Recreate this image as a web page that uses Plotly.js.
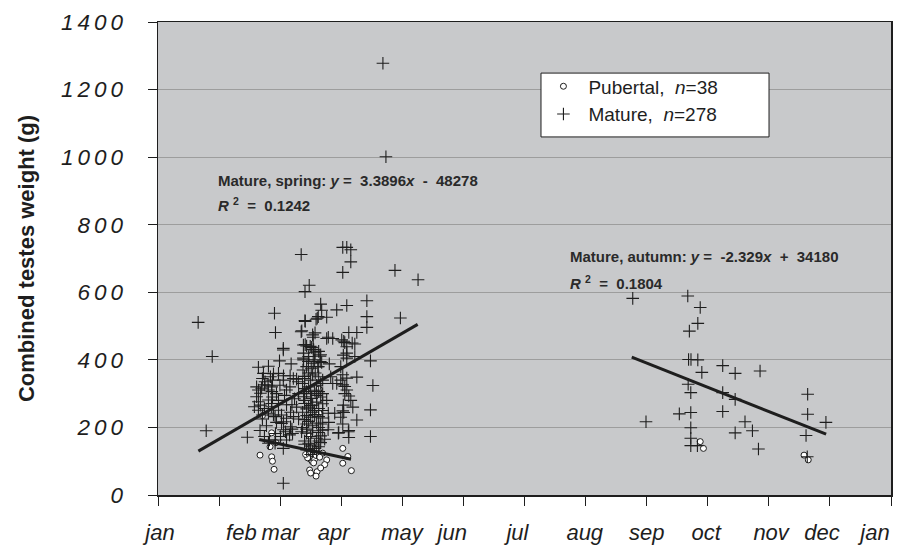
<!DOCTYPE html>
<html>
<head>
<meta charset="utf-8">
<script src="https://cdn.plot.ly/plotly-3.0.1.min.js"></script>
<style>
  html, body { margin: 0; padding: 0; background: #ffffff; }
  #chart { width: 915px; height: 553px; }
  .ytick text { letter-spacing: 4px; }
</style>
</head>
<body>
<div id="chart"></div>
<script>
// ---- data (x = day of year, y = combined testes weight in g) ----
const matureSpring = [
  [20,511],[27,410],[24,190],
  [58,538],[58.5,481],[62.4,434],[62.4,429],[60.5,397],[66.3,388],[50,378],[55,381],[44.5,171],
  [52.5,360],[53.3,335],[54.8,325],[57,340],[62.4,340],[67.4,345],[69.9,335],
  [49.1,320],[51.6,316],[55,311],[56.6,320],[60.7,325],[64,311],[65.7,320],
  [49.1,291],[50,276],[55,281],[56.6,271],[48,261],[50,251],[56.6,261],[53,256],
  [52,237],[55,242],[57.5,237],[60,251],[61.5,237],[64,227],[61.5,212],
  [66,202],[63.5,187],[61,173],[67,182],[50.8,191],[53,173],[58.5,182],[58.5,163],
  [62.4,138],[62.4,35],[55,153],[55.5,163],[58.3,153],
  [51,301],[53,326],[56.7,306],[58.3,232],[62.5,217],[64,267],[66.7,267],[67.5,232],
  [62.5,193],[66.7,195],[65.5,178],[64,163],[57.5,359],[62.5,353],[65.8,353],[69,343],
  [50,311],[51,266],[52,225],[54,205],[57,290],[59,300],[60,280],[63,295],[68,285],
  [70,300],[69,260],[66,245],[70,225],[59,215],[52,345],[60,360],[56,350],
  [71.3,712],[75.3,621],[73.2,602],[81,565],[81.5,547],[79.8,528],[78.7,520],[73.2,516],[79.3,523],[73.3,514],
  [71.6,486],[78.2,480],[77.3,467],[71.3,483],[77,474],[72.4,444],[74,441],[76.5,437],[77.3,431],[78.2,421],[80.7,411],[81.5,392],
  [72.4,405],[74.9,395],[77.3,390],[79.8,380],[73.3,445],[75.8,440],[77.5,430],[80,425],[72.5,400],[80.8,395],
  [72.2,370],[76.3,375],[79.6,380],[73,351],[75,361],[78.3,361],[73,345],[76,340],[79,325],[81,330],
  [74,306],[72.5,291],[76.5,286],[80,306],[82,300],[73,271],[77,266],[80,256],[75,260],[78,250],
  [72,245],[74,235],[76,230],[78,238],[80,232],[82,228],[73,223],[75,218],[79,213],[81,210],
  [72,200],[74,195],[77,190],[80,185],[82,192],[71.5,187],[74,183],[76,173],[79,168],[81,175],
  [73,160],[75,153],[78,148],[80,143],[74,133],[77,130],[79,126],[76,120],[81,155],[83,165],
  [72,330],[75,320],[78,310],[81,290],[73,280],[76,300],[79,295],[82,270],[74,255],[77,245],
  [84.7,193],[84.8,242],[88,242],[85.3,388],[84,463],[84.8,467],[87,330],[86,350],[89.8,183],[84,280],[85,215],
  [72.5,420],[75,410],[78,400],[81,415],[74,380],[77,355],[80,350],[82,340],[73,315],[76,265],
  [79,275],[82,250],[74,210],[77,205],[80,200],[76,145],[78,138],[73,150],[80,160],
  [89,548],[84,526],[87,463],
  [92,733],[94,733],[96,726],[96,690],[92,659],[94,561],
  [91.5,459],[93,451],[94,439],[92.5,455],[96.7,450],[98,447],[94,420],[98,410],[92.3,414],[94,405],[91,380],[92,356],[99,349],
  [92,326],[93,321],[94,311],[95,293],[92,249],[92.5,244],[99,222],[90,185],[95,191],[95,481],[99,481],
  [89,330],[91,340],[94,346],[92.3,266],[94.8,187],[93,300],[96,280],[91,230],[97,260],[92,210],[95,170],
  [104,575],[104,528],[104,496],[105.8,397],[107,324],[105.8,252],[105.8,173],[118,665],[129.5,637],[120.7,524],[112,1278],[113.5,1001]
];
const matureAutumn = [
  [236.4,582],[243,217],[263.8,589],[270,555],[268.8,508],[264.6,485],[264.2,401],[265.4,401],[268.8,400],
  [270.8,363],[264,328],[265.3,303],[259.6,240],[265.3,244],[265.3,199],[265.3,168],[265.3,146],[268.6,146],
  [281.2,383],[287.4,360],[299.8,367],[281.2,303],[287.4,283],[281.2,247],[292.3,217],[296,190],[287.4,184],
  [299,136],[323.5,298],[323.5,239],[332.6,215],[322.7,176],[323.3,113]
];
const pubertal = [
  [50.8,118],[56.6,113],[57.8,76],[56.6,184],[58.8,155],[52,235],[55.8,143],[57,100],
  [75.3,175],[75.5,138],[77,143],[79,135],[75.8,106],[76.8,99],[78,106],[75.5,74],[79.2,69],[78.7,56],
  [80.2,314],[80.2,242],[78.7,117],[84,104],[82,124],[74.5,110],[77.5,95],[80.5,112],[76,65],[73.5,120],[83,90],[81,80],
  [92,138],[92,94],[94.5,114],[96.3,72],
  [270,158],[271.6,138],[321.7,118],[323.8,104]
];
// trend lines (end points)
const springLineDay = [20.1, 129.3];
const springLineWeight = [130, 505];
const pubertalLineDay = [50.4, 96.1];
const pubertalLineWeight = [164, 106];
const autumnLineDay = [235.9, 332.7];
const autumnLineWeight = [408, 180];
// axis ticks
const monthTickDays = [0,30.42,60.83,91.25,121.67,152.08,182.5,212.92,243.33,273.75,304.17,334.58,365];
const monthLabelDays = [1,41.5,61,87.5,121.5,146.5,179,212.5,243.4,273,305.3,330.6,357];
const monthLabels = ['jan','feb','mar','apr','may','jun','jul','aug','sep','oct','nov','dec','jan'];
const weightTicks = [0,200,400,600,800,1000,1200,1400];

const mature = matureSpring.concat(matureAutumn);
const FONT = 'Liberation Sans, Arial, Helvetica, sans-serif';
const INK = '#1e1e1e';

const traces = [
  {
    type: 'scatter', mode: 'markers', name: 'Pubertal,  <i>n</i>=38',
    x: pubertal.map(p => p[0]), y: pubertal.map(p => p[1]),
    marker: { symbol: 'circle', size: 6, color: '#ffffff', line: { color: INK, width: 1 } },
    hoverinfo: 'skip'
  },
  {
    type: 'scatter', mode: 'markers', name: 'Mature,  <i>n</i>=278',
    x: mature.map(p => p[0]), y: mature.map(p => p[1]),
    marker: { symbol: 'cross-thin', size: 9, color: INK, line: { color: INK, width: 1.1 } },
    hoverinfo: 'skip'
  },
  {
    type: 'scatter', mode: 'lines', showlegend: false,
    x: springLineDay, y: springLineWeight,
    line: { color: INK, width: 3 }, hoverinfo: 'skip'
  },
  {
    type: 'scatter', mode: 'lines', showlegend: false,
    x: pubertalLineDay, y: pubertalLineWeight,
    line: { color: INK, width: 3 }, hoverinfo: 'skip'
  },
  {
    type: 'scatter', mode: 'lines', showlegend: false,
    x: autumnLineDay, y: autumnLineWeight,
    line: { color: INK, width: 3 }, hoverinfo: 'skip'
  },
  {
    // invisible trace that carries the month labels axis
    type: 'scatter', mode: 'markers', showlegend: false, xaxis: 'x2', yaxis: 'y',
    x: [monthTickDays[0]], y: [weightTicks[0]], marker: { opacity: 0 }, hoverinfo: 'skip'
  }
];

const annFont = { family: FONT, size: 15, color: '#2a2a2a' };
const layout = {
  width: 915, height: 553,
  margin: { l: 158, r: 24, t: 22, b: 58, pad: 0 },
  paper_bgcolor: '#ffffff',
  plot_bgcolor: '#c8c9cb',
  font: { family: FONT, color: '#1e1e1e' },
  showlegend: true,
  legend: {
    x: 0.519, y: 0.904, xanchor: 'left', yanchor: 'top',
    bgcolor: 'rgba(0,0,0,0)', borderwidth: 0,
    font: { family: FONT, size: 19, color: '#1e1e1e' },
    itemwidth: 40, tracegroupgap: 0
  },
  xaxis: {
    range: [0, 365], tickmode: 'array', tickvals: monthTickDays, showticklabels: false,
    ticks: 'outside', ticklen: 9, tickwidth: 1, tickcolor: INK,
    showline: true, linecolor: INK, linewidth: 1.5, mirror: true,
    showgrid: false, zeroline: false, fixedrange: true
  },
  xaxis2: {
    overlaying: 'x', side: 'bottom', anchor: 'y', matches: 'x',
    tickmode: 'array', tickvals: monthLabelDays, ticktext: monthLabels,
    ticks: '', showline: false, showgrid: false, zeroline: false,
    tickfont: { family: FONT, size: 22, color: '#1e1e1e', style: 'italic' },
    ticklabelstandoff: 22
  },
  yaxis: {
    range: [0, 1400], tickmode: 'array', tickvals: weightTicks,
    ticks: 'outside', ticklen: 9, tickwidth: 1, tickcolor: INK,
    showline: true, linecolor: INK, linewidth: 1.5, mirror: true,
    showgrid: true, gridcolor: '#9d9d9d', gridwidth: 1, zeroline: false,
    tickfont: { family: FONT, size: 22.5, color: '#1e1e1e', style: 'italic' },
    ticklabelstandoff: 16,
    title: { text: '<b>Combined testes weight (g)</b>', font: { family: FONT, size: 22, color: '#1e1e1e' }, standoff: 20 },
    fixedrange: true
  },
  shapes: [
    { type: 'rect', xref: 'paper', yref: 'paper', x0: 0.5225, x1: 0.8336, y0: 0.757, y1: 0.892,
      fillcolor: '#ffffff', line: { color: INK, width: 1 }, layer: 'above' }
  ],
  annotations: [
    { xref: 'x', yref: 'y', x: 28.9, y: 932, xanchor: 'left', yanchor: 'middle', showarrow: false, font: annFont,
      text: '<b>Mature, spring: <i>y</i> =  3.3896<i>x</i>  -  48278</b>' },
    { xref: 'x', yref: 'y', x: 28.9, y: 861, xanchor: 'left', yanchor: 'middle', showarrow: false, font: annFont,
      text: '<b><i>R</i> <sup>2</sup>  =  0.1242</b>' },
    { xref: 'x', yref: 'y', x: 204.2, y: 707, xanchor: 'left', yanchor: 'middle', showarrow: false, font: annFont,
      text: '<b>Mature, autumn: <i>y</i> =  -2.329<i>x</i>  +  34180</b>' },
    { xref: 'x', yref: 'y', x: 204.2, y: 630, xanchor: 'left', yanchor: 'middle', showarrow: false, font: annFont,
      text: '<b><i>R</i> <sup>2</sup>  =  0.1804</b>' }
  ]
};

Plotly.newPlot('chart', traces, layout, { displayModeBar: false, staticPlot: true });
</script>
</body>
</html>
